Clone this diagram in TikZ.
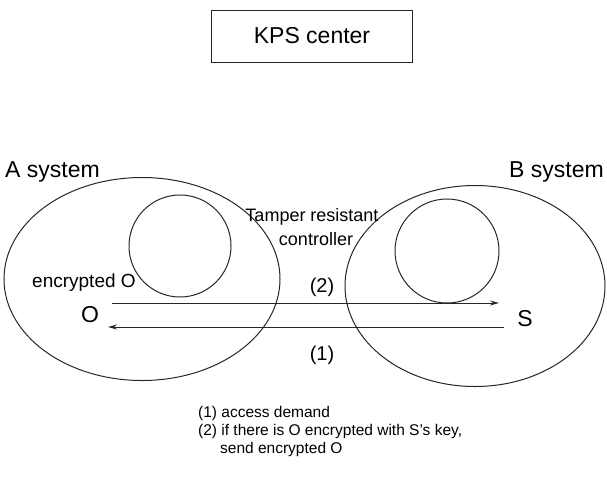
\documentclass[tikz,border=0pt]{standalone}
\usepackage{fontspec}
\setmainfont{Liberation Sans}
\usetikzlibrary{arrows.meta,shapes.geometric}
\begin{document}
\begin{tikzpicture}[x=1pt,y=-1pt,
  line/.style={draw=black!85,line width=1pt},
  big/.style={inner sep=0pt,font=\fontsize{23}{26}\selectfont},
  mid/.style={inner sep=0pt,font=\fontsize{19}{22}\selectfont},
  arr/.style={line,-{Stealth[length=9pt,width=5pt,open]}}]
\useasboundingbox (0,0) rectangle (607,485);
\node[line,draw,minimum width=201pt,minimum height=52pt,inner sep=0pt,big] (kps) at (312,36) {KPS center};
\node[line,ellipse,draw,minimum width=276pt,minimum height=203pt] (A) at (142,279) {};
\node[line,ellipse,draw,minimum width=260pt,minimum height=201pt] (B) at (475,286) {};
\node[line,circle,draw,minimum size=102pt] (ca) at (180,246) {};
\node[line,circle,draw,minimum size=104pt] (cb) at (447,251) {};
\node[big,anchor=base west] (as) at (5,177) {A system};
\node[big,anchor=base east] (bs) at (604,177) {B system};
\node[mid,font=\fontsize{18}{22}\selectfont,anchor=base] (tr1) at (312,221) {Tamper resistant};
\node[mid,font=\fontsize{18}{22}\selectfont,anchor=base] (tr2) at (316,245) {controller};
\node[mid,anchor=base west] (enc) at (32,287) {encrypted O};
\node[big,anchor=base] (O) at (90,322) {O};
\node[big,anchor=base] (S) at (525,326) {S};
\node[mid,font=\fontsize{20}{22}\selectfont,anchor=base] (l2) at (322,292) {(2)};
\node[mid,font=\fontsize{20}{22}\selectfont,anchor=base] (l1) at (322,360) {(1)};
\coordinate (a1s) at (112,303);
\coordinate (a1e) at (499,303);
\coordinate (a2s) at (504,327);
\coordinate (a2e) at (108,327);
\draw[arr] (a1s) -- (a1e);
\draw[arr] (a2s) -- (a2e);
\node[inner sep=0pt,anchor=base west,align=left,font=\fontsize{15.5}{18}\selectfont] (notes) at (198,453) {(1) access demand\\(2) if there is O encrypted with S's key,\\\hspace*{22pt}send encrypted O};
\end{tikzpicture}
\end{document}
